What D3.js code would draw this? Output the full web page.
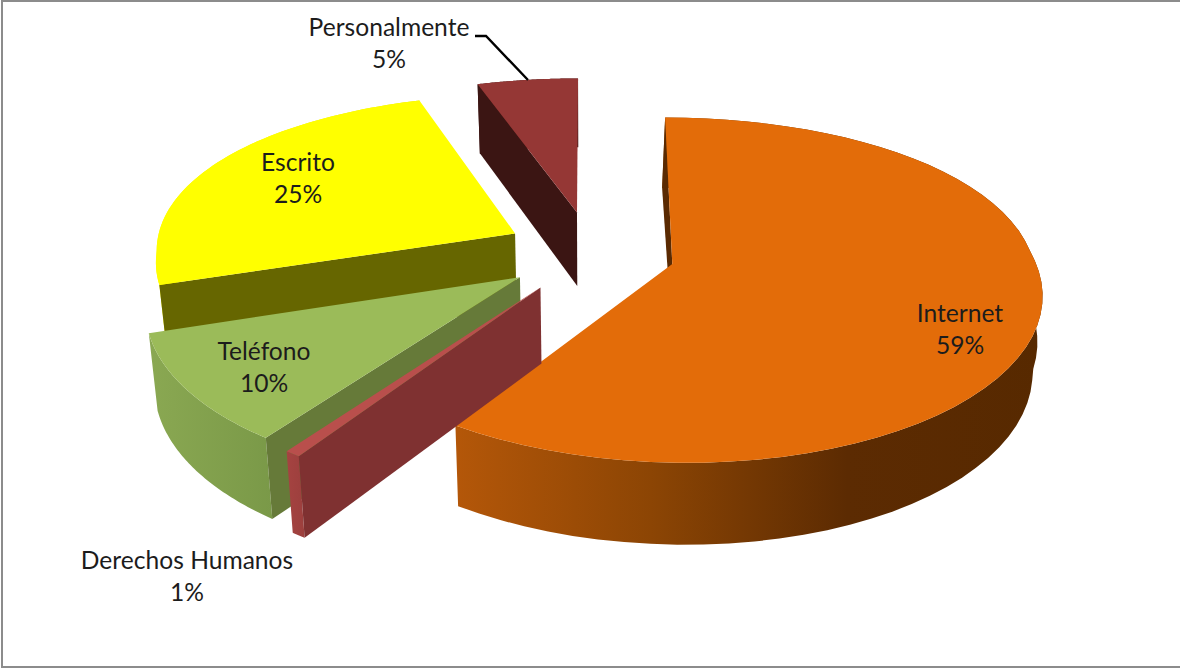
<!DOCTYPE html>
<html>
<head>
<meta charset="utf-8">
<script src="https://cdn.jsdelivr.net/npm/d3@7"></script>
<style>
  html, body { margin: 0; padding: 0; background: #fff; }
  svg { display: block; }
  text { font-family: Lato, "Open Sans", sans-serif; font-size: 24.6px; fill: #1c1c1c; text-anchor: middle; }
</style>
</head>
<body>
<div id="chart"></div>
<script>
// data, the labels round these to whole percents
const categories = ["Internet", "Derechos Humanos", "Teléfono", "Escrito", "Personalmente"];
const values = [59.25, 0.6, 10.15, 25, 5];

// colours per slice, same order as categories
const topColors = ["#E36C09", "#B94F4C", "#9BBB59", "#FFFF00", "#953735"];
const cutColors = ["#5A2A02", "#7F3131", "#667A39", "#666600", "#3B1513"];
const rimColors = [
  ["#B45709", "#8C4504", "#5C2B02", "#572900"],
  ["#A54341", "#9C3F3D"],
  ["#8AA852", "#7A9948"],
  ["#FFFF00", "#E6E600"],
  ["#3B1513", "#3B1513"]
];

// label anchors (centre x, first baseline)
const labelAt = [[960, 322], [187, 569], [264, 360], [298, 171], [389, 36]];

const width = 1180, height = 669;

// ground plane -> screen, a small perspective camera
const x0 = 590, y0 = 252;
const rx = 360, ry = 165;
const persp = 0.15, perspBack = 0.09;
const explodeU = 0.236, explodeV = 0.252;
const thick = 75;

// how far the bottom edge of a wall moves sideways from the top edge
function lean(x, v) {
  const dx = x - x0;
  if (dx < 0) return -dx * 0.02;
  if (v < 0 && dx < 100) return -dx * 0.04;
  const f = Math.max(0, (dx - 100) / 350);
  const t = Math.min(1, Math.max(0, (0.25 - v) / 0.35));
  return f * (-10 + 22 * t);
}

function project(u, v, down) {
  const s = 1 / (1 - persp * v);
  const sx = v < 0 ? 1 / (1 - perspBack * v) : s;
  const x = x0 + rx * u * sx;
  const y = y0 + ry * v * s;
  if (!down) return [x, y];
  return [x + lean(x, v), y + thick * Math.sqrt(s)];
}

const line = d3.line();

const svg = d3.select("#chart").append("svg")
  .attr("width", width)
  .attr("height", height);

const defs = svg.append("defs");

// frame
svg.append("rect")
  .attr("x", 2).attr("y", 1)
  .attr("width", width + 10).attr("height", 666)
  .attr("fill", "#fff")
  .attr("stroke", "#8c8c8c")
  .attr("stroke-width", 2);

const pie = d3.pie().sort(null).value(d => d);
const slices = pie(values).map((d, i) => {
  const mid = (d.startAngle + d.endAngle) / 2;
  const ox = explodeU * Math.sin(mid), oy = -explodeV * Math.cos(mid);
  const steps = d3.range(0, 61).map(t => d.startAngle + (d.endAngle - d.startAngle) * t / 60);
  const arc = steps.map(a => [ox + Math.sin(a), oy - Math.cos(a)]);
  return { i: i, ox: ox, oy: oy, arc: arc };
});

// back to front
const order = [4, 3, 0, 2, 1];

order.forEach(idx => {
  const s = slices[idx];
  const g = svg.append("g");

  const rimTop = s.arc.map(p => project(p[0], p[1], false));
  const rimBot = s.arc.map(p => project(p[0], p[1], true));
  const apexTop = project(s.ox, s.oy, false);
  const apexBot = project(s.ox, s.oy, true);

  // outer wall, shaded left to right
  const xs = d3.extent(rimTop.concat(rimBot), p => p[0]);
  const gradId = "rim" + idx;
  const grad = defs.append("linearGradient")
    .attr("id", gradId)
    .attr("gradientUnits", "userSpaceOnUse")
    .attr("x1", xs[0]).attr("x2", xs[1])
    .attr("y1", 0).attr("y2", 0);
  rimColors[idx].forEach((c, j) => {
    grad.append("stop")
      .attr("offset", j / (rimColors[idx].length - 1))
      .attr("stop-color", c);
  });

  g.append("path")
    .attr("d", line(rimTop.concat(rimBot.slice().reverse())) + "Z")
    .attr("fill", "url(#" + gradId + ")");

  // cut face on the start edge of the slice
  g.append("path")
    .attr("d", line([apexTop, rimTop[0], rimBot[0], apexBot]) + "Z")
    .attr("fill", cutColors[idx]);

  // top face
  g.append("path")
    .attr("d", line([apexTop].concat(rimTop)) + "Z")
    .attr("fill", topColors[idx]);
});

// leader line for Personalmente
svg.append("path")
  .attr("d", line([[475, 36], [486, 36], [528, 80]]))
  .attr("fill", "none")
  .attr("stroke", "#000")
  .attr("stroke-width", 2.4);

// labels
categories.forEach((c, i) => {
  const t = svg.append("text")
    .attr("x", labelAt[i][0])
    .attr("y", labelAt[i][1]);
  t.append("tspan").attr("x", labelAt[i][0]).text(c);
  t.append("tspan").attr("x", labelAt[i][0]).attr("dy", 32).text(Math.round(values[i]) + "%");
});
</script>
</body>
</html>
